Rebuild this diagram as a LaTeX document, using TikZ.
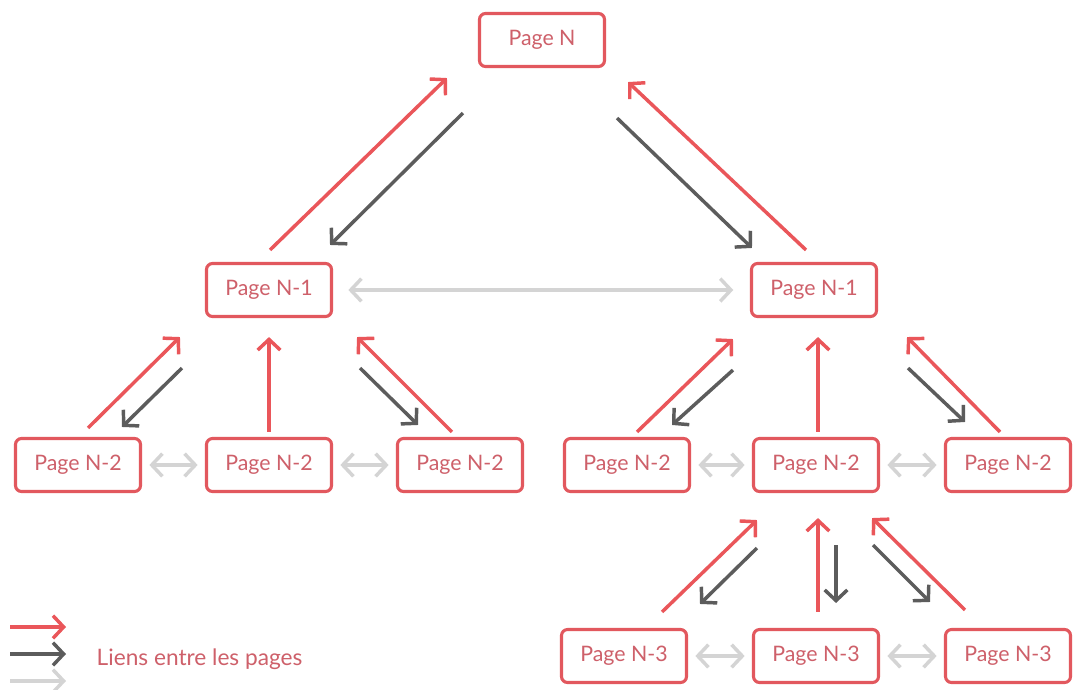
\documentclass[tikz,border=0pt]{standalone}
\usepackage{fontspec}
\setmainfont{Lato}
\usetikzlibrary{arrows.meta, calc}
\definecolor{boxred}{RGB}{226,88,94}
\definecolor{txtred}{RGB}{206,96,106}
\definecolor{arrred}{RGB}{234,86,90}
\definecolor{dkgray}{RGB}{92,92,92}
\definecolor{ltgray}{RGB}{212,212,212}

\begin{document}
\begin{tikzpicture}[x=0.75pt, y=-0.75pt,
  box/.style={draw=boxred, line width=2.3pt, rounded corners=4.5pt, fill=white,
    minimum width=93.75pt, minimum height=39.75pt, text=txtred,
    font=\fontsize{16}{18}\selectfont},
  up/.style={arrred, line width=2.6pt, -{Straight Barb[length=8pt,width=17pt]}},
  dn/.style={dkgray, line width=2.6pt, -{Straight Barb[length=8pt,width=17pt]}},
  lnk/.style={ltgray, line width=2.6pt, shorten <=5.5pt, shorten >=5.5pt,
    {Straight Barb[length=8pt,width=17pt]}-{Straight Barb[length=8pt,width=17pt]}}]
\useasboundingbox (0,0) rectangle (1073,689);
\fill[white] (0,0) rectangle (1073,689);

\node[box] (p0) at (542,40) {Page N};
\node[box] (p1) at (269,290) {Page N-1};
\node[box] (p2) at (814,290) {Page N-1};
\node[box] (q1) at (78,465) {Page N-2};
\node[box] (q2) at (269,465) {Page N-2};
\node[box] (q3) at (460,465) {Page N-2};
\node[box] (q4) at (627,465) {Page N-2};
\node[box] (q5) at (816,465) {Page N-2};
\node[box] (q6) at (1008,465) {Page N-2};
\node[box] (r1) at (624,656) {Page N-3};
\node[box] (r2) at (816,656) {Page N-3};
\node[box] (r3) at (1008,656) {Page N-3};

\draw[up] ($(p1.north)+(1,-12)$) -- ($(p0.south west)+(-31,10)$);
\draw[dn] ($(p0.south west)+(-15,45)$) -- ($(p1.north east)+(-3,-17)$);
\draw[dn] ($(p0.south east)+(11,50)$) -- ($(p2.north west)+(2,-14)$);
\draw[up] ($(p2.north)+(-8,-12)$) -- ($(p0.south east)+(22,14)$);
\draw[lnk, shorten <=11.5pt, shorten >=12.5pt] (p1) -- (p2);

\draw[up] ($(q1.north)+(10,-9)$) -- ($(p1.south west)+(-25,19)$);
\draw[dn] ($(p1.south west)+(-23,50)$) -- ($(q1.north)+(44,-10)$);
\draw[up] ($(q2.north)+(0,-5)$) -- ($(p1.south)+(0,19)$);
\draw[dn] ($(p1.south east)+(27,50)$) -- ($(q3.north)+(-42,-12)$);
\draw[up] ($(q3.north)+(-8,-5)$) -- ($(p1.south east)+(24,19)$);
\draw[lnk] (q1) -- (q2);
\draw[lnk] (q2) -- (q3);

\draw[up] ($(q4.north)+(10,-5)$) -- ($(p2.south west)+(-17,21)$);
\draw[dn] ($(p2.south west)+(-17,52)$) -- ($(q4.north)+(45,-12)$);
\draw[up] ($(q5.north)+(2,-5)$) -- ($(p2.south)+(4,19)$);
\draw[dn] ($(p2.south east)+(30,50)$) -- ($(q6.north)+(-43,-15)$);
\draw[up] ($(q6.north)+(-8,-5)$) -- ($(p2.south east)+(29,19)$);
\draw[lnk] (q4) -- (q5);
\draw[lnk] (q5) -- (q6);

\draw[up] ($(r1.north)+(38,-16)$) -- ($(q5.south west)+(5,27)$);
\draw[dn] ($(q5.south west)+(5,55)$) -- ($(r1.north)+(76,-24)$);
\draw[up] ($(r2.north)+(2,-16)$) -- ($(q5.south)+(2,25)$);
\draw[dn] ($(q5.south)+(20,52)$) -- ($(r2.north)+(20,-25)$);
\draw[dn] ($(q5.south east)+(-7,52)$) -- ($(r3.north)+(-78,-26)$);
\draw[up] ($(r3.north)+(-43,-18)$) -- ($(q5.south east)+(-8,25)$);
\draw[lnk] (r1) -- (r2);
\draw[lnk] (r2) -- (r3);

\coordinate (k1) at (10,627);
\coordinate (k2) at (66,627);
\coordinate (k3) at (10,654);
\coordinate (k4) at (66,654);
\coordinate (k5) at (10,681);
\coordinate (k6) at (66,681);
\draw[up] (k1) -- (k2);
\draw[dn] (k3) -- (k4);
\draw[ltgray, line width=2.6pt, -{Straight Barb[length=8pt,width=17pt]}] (k5) -- (k6);
\node[anchor=west, text=txtred, font=\fontsize{17}{19}\selectfont] (lg) at (92,659) {Liens entre les pages};
\end{tikzpicture}
\end{document}
